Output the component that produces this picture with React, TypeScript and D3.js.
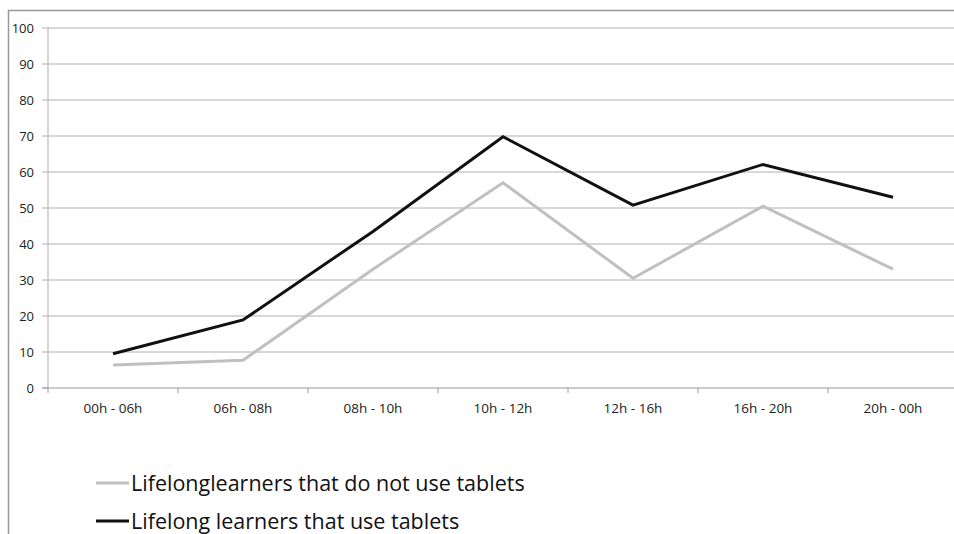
import React from "react";
import * as d3 from "d3";

const categories = ["00h - 06h", "06h - 08h", "08h - 10h", "10h - 12h", "12h - 16h", "16h - 20h", "20h - 00h"];
const noTablets = [6.4, 7.7, 33, 57, 30.5, 50.5, 33];
const withTablets = [9.5, 18.9, 43.5, 69.8, 50.8, 62.1, 53];
const yTicks = [0, 10, 20, 30, 40, 50, 60, 70, 80, 90, 100];
const seriesNames = ["Lifelonglearners that do not use tablets", "Lifelong learners that use tablets"];
const seriesColors = ["#c0c0c0", "#111111"];

const W = 954;
const H = 534;
const left = 48;
const bandW = 130;

export default function App() {
  const x = d3.scaleBand().domain(categories).range([left, left + bandW * categories.length]);
  const y = d3.scaleLinear().domain([0, 100]).range([388, 28]);
  const line = d3
    .line<number>()
    .x((_, i) => (x(categories[i]) as number) + x.bandwidth() / 2)
    .y((d) => y(d));
  const font = "'Open Sans', 'Liberation Sans', sans-serif";

  return (
    <svg
      width={W}
      height={H}
      style={{ position: "fixed", left: 0, top: 0, background: "#fff" }}
      fontFamily={font}
    >
      {/* outer frame */}
      <path d={`M8.5,${H} V10.5 H${W}`} fill="none" stroke="#999" strokeWidth={1.5} />

      {/* gridlines */}
      {yTicks.slice(1).map((t) => (
        <line key={t} x1={left} x2={W} y1={y(t)} y2={y(t)} stroke="#b0b0b0" strokeWidth={1} />
      ))}

      {/* y axis */}
      <line x1={left} x2={left} y1={y(100)} y2={y(0)} stroke="#b0b0b0" />
      {yTicks.map((t) => (
        <g key={t}>
          <line x1={left - 6} x2={left} y1={y(t)} y2={y(t)} stroke="#b0b0b0" />
          <text x={34} y={y(t)} dy="0.35em" textAnchor="end" fontSize={13} fill="#222">
            {t}
          </text>
        </g>
      ))}

      {/* x axis */}
      <line x1={left - 6} x2={W} y1={y(0)} y2={y(0)} stroke="#999" />
      {categories.map((c, i) => (
        <g key={c}>
          <line
            x1={left + i * bandW}
            x2={left + i * bandW}
            y1={y(0)}
            y2={y(0) + 5}
            stroke="#999"
          />
          <text
            x={(x(c) as number) + x.bandwidth() / 2}
            y={y(0) + 25}
            textAnchor="middle"
            fontSize={13.5}
            fill="#222"
          >
            {c}
          </text>
        </g>
      ))}

      {/* series */}
      {[noTablets, withTablets].map((s, i) => (
        <path
          key={i}
          d={line(s) as string}
          fill="none"
          stroke={seriesColors[i]}
          strokeWidth={3}
          strokeLinejoin="miter"
        />
      ))}

      {/* legend */}
      {seriesNames.map((n, i) => (
        <g key={n} transform={`translate(96,${483 + i * 38})`}>
          <line x1={0} x2={33} y1={0} y2={0} stroke={seriesColors[i]} strokeWidth={3} />
          <text x={35} y={0} dy="0.35em" fontSize={21.5} fill="#111">
            {n}
          </text>
        </g>
      ))}
    </svg>
  );
}
